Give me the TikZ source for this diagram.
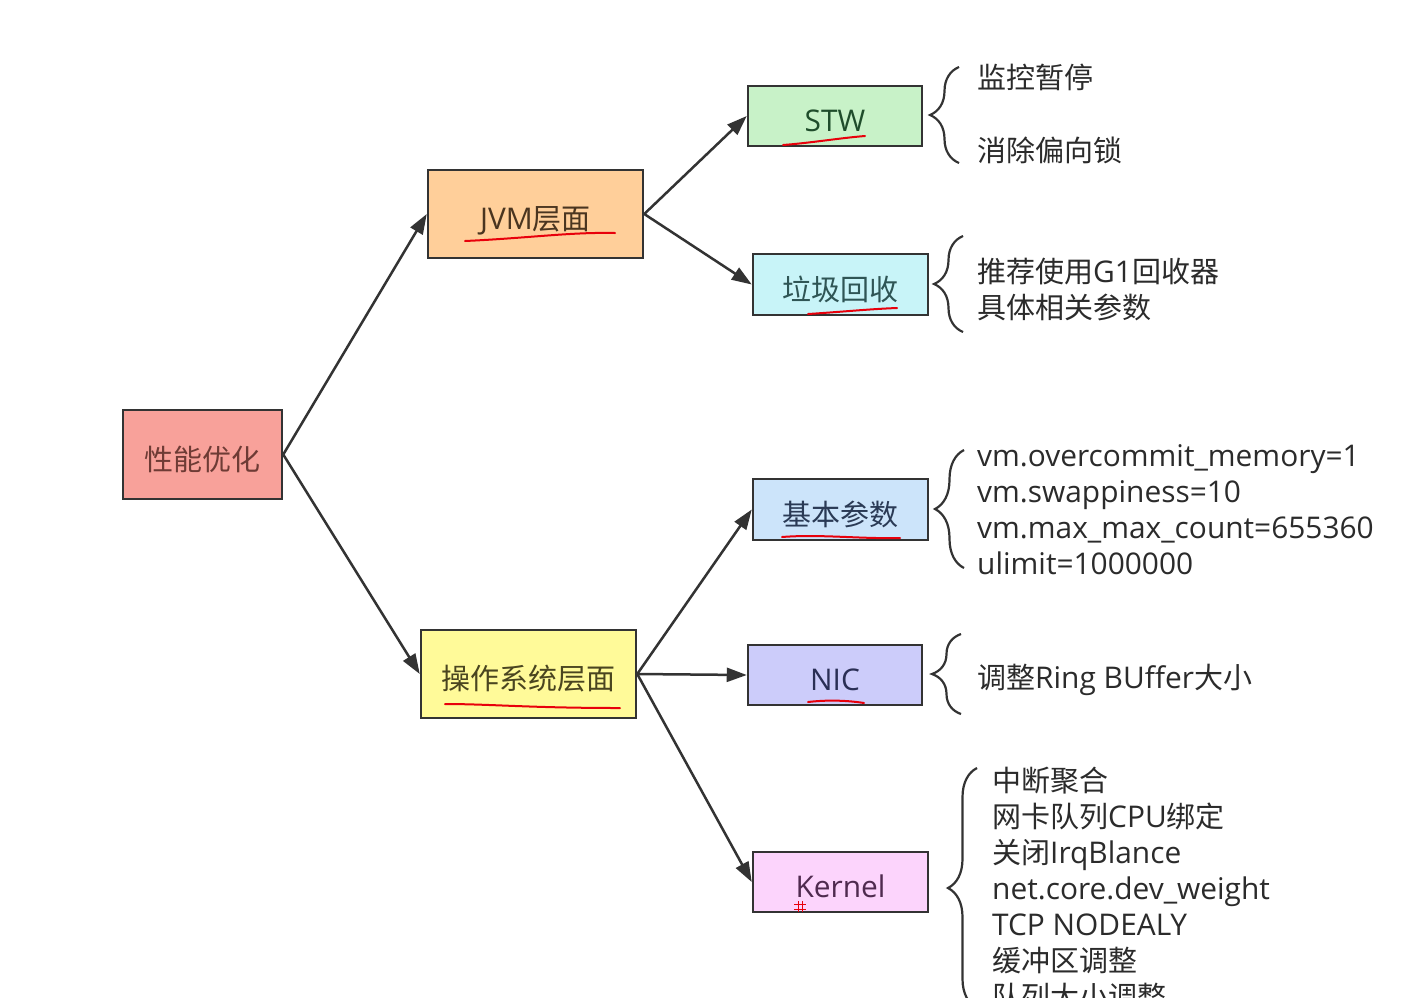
\documentclass[tikz,border=0pt]{standalone}
\usepackage{fontspec}
\setmainfont[Scale=1.03]{Open Sans}
\newfontfamily\cjk{Noto Sans CJK SC}
\usetikzlibrary{arrows.meta,decorations.pathreplacing}
\definecolor{edge}{HTML}{333333}
\definecolor{txt}{HTML}{2B2B2B}
\definecolor{fperf}{HTML}{F8A19A}
\definecolor{fjvm}{HTML}{FFCF9A}
\definecolor{fstw}{HTML}{C8F2C8}
\definecolor{fgc}{HTML}{C8F4F8}
\definecolor{fbasic}{HTML}{CCE4FA}
\definecolor{fos}{HTML}{FFFA99}
\definecolor{fnic}{HTML}{CCCCFA}
\definecolor{fkernel}{HTML}{FCD4FC}
\definecolor{tperf}{HTML}{6E3B35}
\definecolor{tjvm}{HTML}{4A3520}
\definecolor{tstw}{HTML}{1F4D2B}
\definecolor{tgc}{HTML}{2F5555}
\definecolor{tbasic}{HTML}{2A3A55}
\definecolor{tos}{HTML}{4A4520}
\definecolor{tnic}{HTML}{2A2F55}
\definecolor{tkernel}{HTML}{4F2A4F}
\definecolor{pen}{HTML}{E8000B}
\tikzset{
  box/.style={draw=edge, line width=2.5pt, inner sep=0pt, text height=31pt, text depth=0pt, font=\fontsize{29}{36}\selectfont},
  arr/.style={draw=edge, line width=2.5pt, -{Triangle[length=20pt,width=14pt]}},
  brc/.style={draw=edge, line width=2.2pt, decorate, decoration={brace, amplitude=29pt}},
  note/.style={anchor=west, align=left, text=txt, inner sep=0pt, font=\fontsize{29}{36}\selectfont},
  penline/.style={draw=pen, line width=2pt, line cap=round}
}
\begin{document}
\begin{tikzpicture}[x=1pt,y=-1pt]
\useasboundingbox (0,0) rectangle (1423,997);
\clip (0,0) rectangle (1423,997);
\fill[white] (0,0) rectangle (1423,997);
% boxes
\node[box, fill=fperf, text=tperf, minimum width=159pt, minimum height=89pt] (perf) at (202.5,454.5) {\cjk 性能优化};
\node[box, fill=fjvm, text=tjvm, minimum width=215pt, minimum height=88pt] (jvm) at (535.5,214) {JVM{\cjk 层面}};
\node[box, fill=fstw, text=tstw, minimum width=174pt, minimum height=60pt] (stw) at (835,116) {STW};
\node[box, fill=fgc, text=tgc, minimum width=175pt, minimum height=61pt] (gc) at (840.5,284.5) {\cjk 垃圾回收};
\node[box, fill=fbasic, text=tbasic, minimum width=175pt, minimum height=61pt] (basic) at (840.5,509.5) {\cjk 基本参数};
\node[box, fill=fos, text=tos, minimum width=215pt, minimum height=88pt] (os) at (528.5,674) {\cjk 操作系统层面};
\node[box, fill=fnic, text=tnic, minimum width=174pt, minimum height=60pt] (nic) at (835,675) {NIC};
\node[box, fill=fkernel, text=tkernel, minimum width=175pt, minimum height=60pt] (kernel) at (840.5,882) {Kernel};
% connectors
\draw[arr] (perf.east) -- (jvm.west);
\draw[arr] (perf.east) -- (os.west);
\draw[arr] (jvm.east) -- (stw.west);
\draw[arr] (jvm.east) -- (gc.west);
\draw[arr] (os.east) -- (basic.west);
\draw[arr] (os.east) -- (nic.west);
\draw[arr] (os.east) -- (kernel.west);
% braces
\draw[brc] (959,163) -- (959,67);
\draw[brc] (963,332) -- (963,236);
\draw[brc] (964,568) -- (964,450);
\draw[brc] (961,714) -- (961,634);
\draw[brc] (977,1008) -- (977,768);
% notes
\node[note] (n1) at (977,77) {\cjk 监控暂停};
\node[note] (n2) at (977,150) {\cjk 消除偏向锁};
\node[note] (n3) at (977,289.5) {{\cjk 推荐使用}G1{\cjk 回收器}\\{\cjk 具体相关参数}};
\node[note] (n4) at (977,510) {vm.overcommit\_memory=1\\vm.swappiness=10\\vm.max\_max\_count=655360\\ulimit=1000000};
\node[note] (n5) at (977,680) {{\cjk 调整}Ring BUffer{\cjk 大小}};
\node[note] (n6) at (992,888.5) {{\cjk 中断聚合}\\{\cjk 网卡队列}CPU{\cjk 绑定}\\{\cjk 关闭}IrqBlance\\net.core.dev\_weight\\TCP NODEALY\\{\cjk 缓冲区调整}\\{\cjk 队列大小调整}};
% red pen underlines
\draw[penline] (465,241) .. controls (530,238) and (570,232) .. (615,233);
\draw[penline] (783,145) .. controls (810,143) and (840,138) .. (865,136);
\draw[penline] (808,314) .. controls (840,312) and (870,309) .. (897,308);
\draw[penline] (782,537) .. controls (820,534) and (860,539) .. (900,538);
\draw[penline] (445,704) .. controls (490,704) and (530,708) .. (620,708);
\draw[penline] (808,702) .. controls (825,700) and (845,700) .. (864,703);
\draw[draw=pen, line width=1pt] (794,904) -- (806,904) (794,909) -- (806,909) (798,901) -- (798,912) (802,901) -- (802,912);
\end{tikzpicture}
\end{document}
